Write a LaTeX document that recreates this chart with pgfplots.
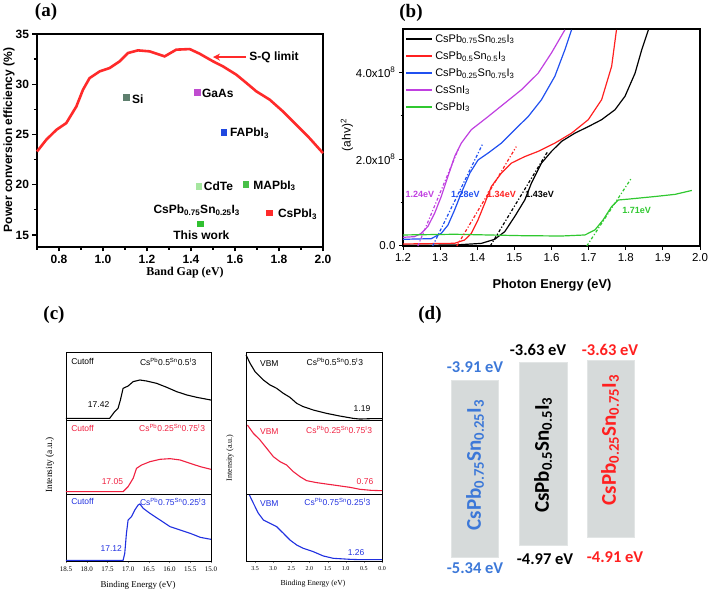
\documentclass[border=0pt]{standalone}
\usepackage{pgfplots}
\pgfplotsset{compat=1.18}
\usepackage{fontspec}
\setmainfont{Liberation Serif}
\setsansfont{Liberation Sans}
\newfontfamily\carlito{Carlito}
\usetikzlibrary{arrows.meta}
\definecolor{sqred}{HTML}{FF2A2A}
\definecolor{bblue}{HTML}{2050F0}
\definecolor{bmag}{HTML}{C040E0}
\definecolor{bgreen}{HTML}{30C830}
\definecolor{bred}{HTML}{FF2020}
\definecolor{cred}{HTML}{F02040}
\definecolor{cblue}{HTML}{2030E0}
\definecolor{dblue}{HTML}{3C78D8}
\definecolor{dred}{HTML}{FF2020}
\definecolor{dgray}{HTML}{D6DADA}
\definecolor{sigray}{HTML}{5E7F6E}
\definecolor{gaas}{HTML}{C04CD0}
\definecolor{fablue}{HTML}{2048E0}
\definecolor{cdte}{HTML}{A6E6A0}
\definecolor{mapb}{HTML}{48C048}
\definecolor{twg}{HTML}{30C030}
\newcommand\fs[1]{\fontsize{#1}{#1}\selectfont}
\newcommand\wf[3]{Cs\textsuperscript{Pb}#1\textsuperscript{Sn}#2\textsuperscript{I}#3}
\pgfplotsset{
 cax/.style={scale only axis, ymin=0, ymax=1, ytick=\empty, x dir=reverse,
   axis line style={line width=0.9pt}, tick align=outside, tick pos=left,
   major tick length=2pt, clip=false,
   every axis plot/.append style={line width=1.1pt},
   ticklabel style={font=\fs{7}}, /pgf/number format/assume math mode=true,
   xticklabel style={/pgf/number format/.cd, fixed, fixed zerofill, precision=1}},
 cl/.style={cax, xmin=15, xmax=18.5, width=145pt},
 cr/.style={cax, xmin=0, xmax=3.75, width=136pt, ticklabel style={font=\fs{6}}},
 mk/.style={only marks, mark=square*, mark size=2.8pt, color=#1, mark options={draw=#1, fill=#1}},
}
\begin{document}
\begin{tikzpicture}[x=1pt,y=1pt]
\useasboundingbox (0,0) rectangle (709,593);

% ---------------- (a)
\begin{axis}[at={(37pt,346pt)}, anchor=south west, scale only axis, width=286pt, height=213pt,
 xmin=0.7, xmax=2.0, ymin=13.8, ymax=35, clip=false,
 xtick={0.8,1.0,1.2,1.4,1.6,1.8,2.0}, minor xtick={0.7,0.9,1.1,1.3,1.5,1.7,1.9},
 ytick={15,20,25,30,35}, minor ytick={17.5,22.5,27.5,32.5},
 tick align=outside, tick pos=left, major tick length=4.5pt, minor tick length=3pt,
 axis line style={line width=1.6pt}, every tick/.style={line width=1.3pt, black},
 ticklabel style={font=\sffamily\bfseries\fs{12}},
 /pgf/number format/assume math mode=true,
 xticklabel style={/pgf/number format/.cd, fixed, fixed zerofill, precision=1},
]
\addplot[sqred, line width=2.6pt] coordinates {
(0.7,23.3) (0.742,24.47) (0.788,25.46) (0.833,26.13) (0.879,27.79) (0.909,29.45)
(0.939,30.61) (0.985,31.28) (1.03,31.61) (1.076,32.28) (1.114,33.11) (1.159,33.37)
(1.212,33.27) (1.28,32.77) (1.333,33.44) (1.394,33.50) (1.439,33.04) (1.5,32.28)
(1.545,31.78) (1.606,30.95) (1.652,30.12) (1.697,29.29) (1.758,28.46) (1.818,27.29)
(1.879,25.96) (1.939,24.63) (2.0,23.14)};
\addplot[mk=sigray] coordinates {(1.106,28.69)};
\addplot[mk=gaas] coordinates {(1.427,29.22)};
\addplot[mk=fablue] coordinates {(1.548,25.23)};
\addplot[mk=cdte] coordinates {(1.435,19.88)};
\addplot[mk=mapb] coordinates {(1.648,20.05)};
\addplot[mk=sqred] coordinates {(1.755,17.23)};
\addplot[mk=twg] coordinates {(1.441,16.1)};
\draw[sqred, line width=2pt, -{Stealth[length=7pt,width=7pt]}] (axis cs:1.65,32.7) -- (axis cs:1.5,32.7);
\begin{scope}[every node/.style={font=\sffamily\bfseries\fs{12}, inner sep=1pt}]
\node[anchor=west] at (axis cs:1.66,32.7) {S-Q limit};
\node[anchor=west] at (axis cs:1.127,28.55) {Si};
\node[anchor=west] at (axis cs:1.445,29.1) {GaAs};
\node[anchor=west] at (axis cs:1.572,25.1) {FAPbI\textsubscript{3}};
\node[anchor=west] at (axis cs:1.453,19.85) {CdTe};
\node[anchor=west] at (axis cs:1.678,19.9) {MAPbI\textsubscript{3}};
\node[anchor=west] at (axis cs:1.79,17.1) {CsPbI\textsubscript{3}};
\node at (axis cs:1.426,17.45) {CsPb\textsubscript{0.75}Sn\textsubscript{0.25}I\textsubscript{3}};
\node at (axis cs:1.447,14.95) {This work};
\end{scope}
\end{axis}
\node[font=\sffamily\bfseries\fs{12}, rotate=90] at (9,453) {Power conversion efficiency (\%)};
\node[font=\bfseries\fs{12}] at (185,320) {Band Gap (eV)};
\node[font=\bfseries\fs{19}] at (46,581) {(a)};

% ---------------- (b)
\begin{axis}[at={(403pt,347pt)}, anchor=south west, scale only axis, width=297pt, height=217pt,
 xmin=1.2, xmax=2.0, ymin=0, ymax=5.0, clip=false,
 xtick={1.2,1.3,1.4,1.5,1.6,1.7,1.8,1.9,2.0},
 ytick={0,2,4}, yticklabels={0.0,{2.0x10\textsuperscript{8}},{4.0x10\textsuperscript{8}}}, minor ytick={1,3},
 tick align=outside, tick pos=left, major tick length=4pt, minor tick length=2.5pt,
 axis line style={line width=1.2pt}, every tick/.style={line width=1pt, black},
 ticklabel style={font=\sffamily\fs{11.5}},
 /pgf/number format/assume math mode=true,
 xticklabel style={/pgf/number format/.cd, fixed, fixed zerofill, precision=1},
 legend style={at={(0.005,0.99)}, anchor=north west, draw=none, fill=none, font=\sffamily\fs{11}, row sep=3.6pt, inner sep=1pt},
 legend cell align=left,
 legend image code/.code={\draw[#1, line width=1.6pt] (0pt,0pt) -- (26pt,0pt);},
 every axis plot/.append style={line width=1.2pt},
]
\addplot[black] coordinates {
(1.2,0.015) (1.339,0.023) (1.411,0.06) (1.447,0.154) (1.474,0.33) (1.501,0.68) (1.528,1.06)
(1.546,1.45) (1.573,1.91) (1.6,2.18) (1.627,2.41) (1.663,2.6) (1.699,2.75) (1.735,2.91)
(1.771,3.14) (1.798,3.45) (1.825,3.98) (1.843,4.52) (1.861,4.98)};
\addlegendentry{CsPb\textsubscript{0.75}Sn\textsubscript{0.25}I\textsubscript{3}}
\addplot[bred] coordinates {
(1.2,0.046) (1.339,0.062) (1.366,0.138) (1.384,0.29) (1.402,0.6) (1.42,0.98) (1.438,1.37)
(1.465,1.68) (1.492,1.91) (1.528,2.06) (1.564,2.18) (1.609,2.37) (1.654,2.6) (1.699,2.91)
(1.735,3.37) (1.762,4.14) (1.775,4.98)};
\addlegendentry{CsPb\textsubscript{0.5}Sn\textsubscript{0.5}I\textsubscript{3}}
\addplot[bblue] coordinates {
(1.2,0.154) (1.276,0.169) (1.303,0.29) (1.321,0.48) (1.339,0.83) (1.357,1.22) (1.38,1.68)
(1.402,1.98) (1.429,2.14) (1.465,2.37) (1.501,2.68) (1.537,2.98) (1.573,3.37) (1.609,3.91)
(1.636,4.52) (1.654,4.98)};
\addlegendentry{CsPb\textsubscript{0.25}Sn\textsubscript{0.75}I\textsubscript{3}}
\addplot[bmag] coordinates {
(1.2,0.2) (1.231,0.215) (1.249,0.29) (1.267,0.45) (1.285,0.75) (1.303,1.14) (1.321,1.6)
(1.339,2.06) (1.357,2.37) (1.384,2.68) (1.429,2.98) (1.474,3.29) (1.519,3.6) (1.564,3.98)
(1.6,4.45) (1.636,4.98)};
\addlegendentry{CsSnI\textsubscript{3}}
\addplot[bgreen] coordinates {
(1.2,0.254) (1.339,0.27) (1.429,0.254) (1.519,0.238) (1.627,0.23) (1.69,0.254) (1.717,0.37)
(1.739,0.6) (1.762,0.91) (1.78,1.06) (1.807,1.08) (1.879,1.14) (1.933,1.19) (1.978,1.28)};
\addlegendentry{CsPbI\textsubscript{3}}
\addplot[bmag, dash dot, forget plot] coordinates {(1.24,0) (1.35,2.25)};
\addplot[bblue, dash dot, forget plot] coordinates {(1.28,0) (1.415,2.36)};
\addplot[bred, dash dot, forget plot] coordinates {(1.345,0) (1.505,2.29)};
\addplot[black, dash dot, forget plot] coordinates {(1.435,0) (1.59,2.18)};
\addplot[bgreen, dash dot, forget plot] coordinates {(1.695,0) (1.815,1.56)};
\begin{scope}[every node/.style={font=\sffamily\bfseries\fs{9}, inner sep=0.5pt, anchor=west}]
\node[text=bmag] at (axis cs:1.205,1.18) {1.24eV};
\node[text=bblue] at (axis cs:1.328,1.18) {1.28eV};
\node[text=bred] at (axis cs:1.425,1.18) {1.34eV};
\node[text=black] at (axis cs:1.528,1.18) {1.43eV};
\node[text=bgreen] at (axis cs:1.789,0.82) {1.71eV};
\end{scope}
\end{axis}
\node[font=\sffamily\fs{12}, rotate=90] at (347,458) {(ahv)\textsuperscript{2}};
\node[font=\sffamily\bfseries\fs{12.8}] at (552,308) {Photon Energy (eV)};
\node[font=\bfseries\fs{19}] at (411,580) {(b)};

% ---------------- (c) left
\begin{axis}[cl, at={(66pt,172.3pt)}, anchor=south west, height=68.4pt, xtick=\empty]
\addplot[black] coordinates {
(18.5,0.034) (17.447,0.034) (17.325,0.132) (17.244,0.18) (17.187,0.302) (17.122,0.473)
(17.001,0.507) (16.879,0.571) (16.717,0.595) (16.555,0.58) (16.312,0.546) (16.069,0.488)
(15.826,0.424) (15.583,0.376) (15.34,0.341) (15.0,0.302)};
\node[anchor=west, font=\sffamily\fs{8.5}] at (rel axis cs:0.012,0.86) {Cutoff};
\node[anchor=west, font=\sffamily\fs{8.5}] at (rel axis cs:0.486,0.86) {\wf{0.5}{0.5}{3}};
\node[font=\sffamily\fs{8.5}] at (rel axis cs:0.225,0.24) {17.42};
\end{axis}
\begin{axis}[cl, at={(66pt,99pt)}, anchor=south west, height=73.3pt, xtick=\empty]
\addplot[cred] coordinates {
(18.5,0.032) (17.122,0.032) (17.001,0.1) (16.879,0.214) (16.798,0.35) (16.677,0.395)
(16.474,0.441) (16.231,0.473) (15.988,0.482) (15.745,0.464) (15.502,0.418) (15.259,0.373)
(15.0,0.336)};
\node[anchor=west, font=\sffamily\fs{8.5}, text=cred] at (rel axis cs:0.012,0.9) {Cutoff};
\node[anchor=west, font=\sffamily\fs{8.5}, text=cred] at (rel axis cs:0.48,0.9) {\wf{0.25}{0.75}{3}};
\node[font=\sffamily\fs{8.5}, text=cred] at (rel axis cs:0.32,0.17) {17.05};
\end{axis}
\begin{axis}[cl, at={(66pt,32pt)}, anchor=south west, height=67pt, xtick={15,15.5,16,16.5,17,17.5,18,18.5}]
\addplot[cblue] coordinates {
(18.5,0.01) (17.122,0.01) (17.082,0.114) (17.041,0.413) (17.001,0.612) (16.92,0.662)
(16.839,0.761) (16.758,0.836) (16.717,0.851) (16.636,0.786) (16.474,0.711) (16.231,0.612)
(15.988,0.512) (15.745,0.463) (15.502,0.413) (15.259,0.353) (15.0,0.323)};
\node[anchor=west, font=\sffamily\fs{8.5}, text=cblue] at (rel axis cs:0.012,0.886) {Cutoff};
\node[anchor=west, font=\sffamily\fs{8.5}, text=cblue] at (rel axis cs:0.486,0.886) {\wf{0.75}{0.25}{3}};
\node[font=\sffamily\fs{8.5}, text=cblue] at (rel axis cs:0.3125,0.19) {17.12};
\end{axis}
% (c) right
\begin{axis}[cr, at={(246pt,172.3pt)}, anchor=south west, height=68.4pt, xtick=\empty]
\addplot[black] coordinates {
(3.748,0.961) (3.638,0.839) (3.5,0.717) (3.271,0.595) (3.087,0.522) (2.904,0.473) (2.72,0.4)
(2.537,0.341) (2.353,0.254) (2.17,0.205) (1.894,0.156) (1.528,0.107) (1.161,0.068)
(0.794,0.034) (0.61,0.024) (0.3,0.03) (0,0.03)};
\node[anchor=west, font=\sffamily\fs{8.5}] at (rel axis cs:0.078,0.84) {VBM};
\node[anchor=west, font=\sffamily\fs{8.5}] at (rel axis cs:0.42,0.86) {\wf{0.5}{0.5}{3}};
\node[font=\sffamily\fs{8.5}] at (rel axis cs:0.853,0.17) {1.19};
\end{axis}
\begin{axis}[cr, at={(246pt,99pt)}, anchor=south west, height=73.3pt, xtick=\empty]
\addplot[cred] coordinates {
(3.711,0.941) (3.546,0.827) (3.362,0.736) (3.179,0.623) (2.995,0.509) (2.812,0.441)
(2.628,0.395) (2.445,0.305) (2.261,0.236) (2.078,0.182) (1.803,0.155) (1.344,0.123)
(0.885,0.091) (0.61,0.064) (0.3,0.05) (0,0.045)};
\node[anchor=west, font=\sffamily\fs{8.5}, text=cred] at (rel axis cs:0.078,0.85) {VBM};
\node[anchor=west, font=\sffamily\fs{8.5}, text=cred] at (rel axis cs:0.417,0.88) {\wf{0.25}{0.75}{3}};
\node[font=\sffamily\fs{8.5}, text=cred] at (rel axis cs:0.875,0.17) {0.76};
\end{axis}
\begin{axis}[cr, at={(246pt,32pt)}, anchor=south west, height=67pt, xtick={0,0.5,1,1.5,2,2.5,3,3.5}]
\addplot[cblue] coordinates {
(3.656,0.985) (3.546,0.861) (3.408,0.711) (3.271,0.612) (3.087,0.562) (2.904,0.512)
(2.72,0.413) (2.537,0.313) (2.353,0.239) (2.17,0.189) (1.894,0.139) (1.619,0.075)
(1.344,0.04) (0.885,0.025) (0.61,0.02) (0,0.02)};
\node[anchor=west, font=\sffamily\fs{8.5}, text=cblue] at (rel axis cs:0.078,0.86) {VBM};
\node[anchor=west, font=\sffamily\fs{8.5}, text=cblue] at (rel axis cs:0.404,0.88) {\wf{0.75}{0.25}{3}};
\node[font=\sffamily\fs{8.5}, text=cblue] at (rel axis cs:0.81,0.13) {1.26};
\end{axis}
\node[font=\fs{8.9}] at (138,8) {Binding Energy (eV)};
\node[font=\fs{7.7}] at (313,9) {Binding Energy (eV)};
\node[font=\fs{9.4}, rotate=90] at (50,128) {Intensity (a.u.)};
\node[font=\fs{8}, rotate=90] at (230,135) {Intensity (a.u.)};
\node[font=\bfseries\fs{19}] at (54,278) {(c)};

% ---------------- (d)
\begin{axis}[at={(0pt,0pt)}, anchor=south west, scale only axis, width=709pt, height=593pt,
 xmin=0, xmax=709, ymin=0, ymax=593, hide axis, clip=false]
\addplot[fill=dgray, draw=dgray!70, line width=0.8pt] coordinates {(451,36) (498,36) (498,213) (451,213)} -- cycle;
\addplot[fill=dgray, draw=dgray!70, line width=0.8pt] coordinates {(519,48) (567,48) (567,231) (519,231)} -- cycle;
\addplot[fill=dgray, draw=dgray!70, line width=0.8pt] coordinates {(587,56) (634,56) (634,233) (587,233)} -- cycle;
\end{axis}
\begin{scope}[every node/.style={font=\carlito\bfseries\fs{21}, rotate=90}]
\node[text=dblue] at (475,128) {CsPb\textsubscript{0.75}Sn\textsubscript{0.25}I\textsubscript{3}};
\node[text=black] at (543,138) {CsPb\textsubscript{0.5}Sn\textsubscript{0.5}I\textsubscript{3}};
\node[text=dred] at (610,153) {CsPb\textsubscript{0.25}Sn\textsubscript{0.75}I\textsubscript{3}};
\end{scope}
\begin{scope}[every node/.style={font=\carlito\bfseries\fs{16.5}}]
\node[text=dblue] at (475,226) {-3.91 eV};
\node[text=black] at (538,243) {-3.63 eV};
\node[text=dred] at (610,243) {-3.63 eV};
\node[text=dblue] at (475,25) {-5.34 eV};
\node[text=black] at (545,34) {-4.97 eV};
\node[text=dred] at (615,36) {-4.91 eV};
\end{scope}
\node[font=\bfseries\fs{19}] at (430,278) {(d)};
\end{tikzpicture}
\end{document}
